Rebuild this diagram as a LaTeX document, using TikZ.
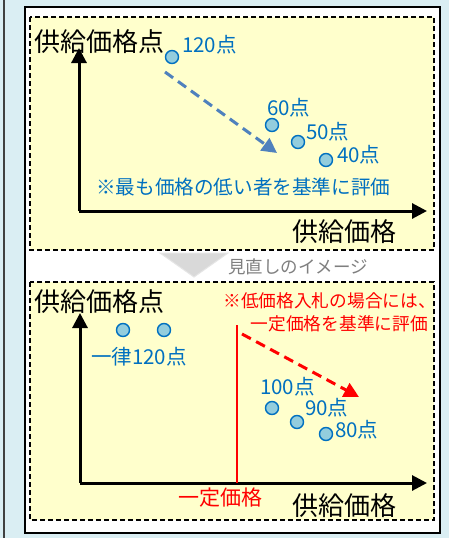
\documentclass[tikz,border=0pt]{standalone}
\usepackage{fontspec}
\setmainfont{Noto Sans CJK JP}
\usetikzlibrary{arrows.meta}
\definecolor{bgblue}{HTML}{DAEEF3}
\definecolor{boxyellow}{HTML}{FFFFCC}
\definecolor{txtblue}{HTML}{0070C0}
\definecolor{dotfill}{HTML}{93CDDD}
\definecolor{arrblue}{HTML}{4F81BD}
\definecolor{midgray}{HTML}{7F7F7F}
\tikzset{
  dashbox/.style={draw=black, line width=1.5pt, dash pattern=on 5pt off 3pt, fill=boxyellow},
  axis/.style={draw=black, line width=3pt, -{Triangle[length=15pt,width=15pt]}},
  dot/.style={circle, draw=txtblue, fill=dotfill, line width=1.4pt, minimum size=13pt, inner sep=0pt},
  lbl/.style={inner sep=0pt, anchor=west},
  big/.style={lbl, font=\fontsize{26}{30}\selectfont, text=black},
  bluelbl/.style={lbl, font=\fontsize{20.5}{24}\selectfont, text=txtblue},
  redlbl/.style={inner sep=0pt, font=\fontsize{17.7}{21}\selectfont, text=red},
}
\begin{document}
\begin{tikzpicture}[x=1pt,y=-1pt]
\useasboundingbox (0,0) rectangle (449,538);
\fill[bgblue] (0,0) rectangle (449,538);
\draw[black!75, line width=1.2pt] (4,0) -- (4,538);
\draw[fill=white, line width=1.5pt] (25,7) rectangle (440,533);
% top panel
\path[dashbox] (30,17) rectangle (434,250);
\node[big] (t1) at (34,42) {供給価格点};
\coordinate (o1) at (79,211);
\coordinate (y1) at (79,48);
\coordinate (x1) at (427,211);
\draw[axis] (o1) -- (y1);
\draw[axis] (o1) -- (x1);
\node[big] (xl1) at (292,232) {供給価格};
\node[dot] (p120) at (172,57) {};
\node[bluelbl] (l120) at (182,45) {120点};
\node[dot] (p60) at (272,125) {};
\node[bluelbl] (l60) at (267,108) {60点};
\node[dot] (p50) at (298,142) {};
\node[bluelbl] (l50) at (306,132) {50点};
\node[dot] (p40) at (326,160) {};
\node[bluelbl] (l40) at (337,155) {40点};
\coordinate (a1s) at (165,72);
\coordinate (a1e) at (277,153);
\draw[arrblue, line width=3pt, dash pattern=on 10pt off 6pt, -{Triangle[length=15pt,width=15pt]}] (a1s) -- (a1e);
\node[lbl, font=\fontsize{19.6}{23}\selectfont, text=txtblue] (note1) at (96,187) {※最も価格の低い者を基準に評価};
% middle
\coordinate (ta) at (160,253);
\coordinate (tb) at (228,253);
\coordinate (tc) at (194,277);
\draw[fill=black!15, draw=black!10, line width=1pt] (ta) -- (tb) -- (tc) -- cycle;
\node[lbl, font=\fontsize{17.5}{20}\selectfont, text=midgray] (mid) at (228,267) {見直しのイメージ};
% bottom panel
\path[dashbox] (30,282) rectangle (434,520);
\node[big] (t2) at (34,302) {供給価格点};
\coordinate (o2) at (80,483);
\coordinate (y2) at (80,313);
\coordinate (x2) at (427,483);
\draw[axis] (o2) -- (y2);
\draw[axis] (o2) -- (x2);
\node[big] (xl2) at (292,506) {供給価格};
\node[dot] (q1) at (123,330) {};
\node[dot] (q2) at (164,330) {};
\node[bluelbl] (l120b) at (91,357) {一律120点};
\coordinate (rtop) at (237,325);
\coordinate (rbot) at (237,483);
\draw[red, line width=1.5pt] (rtop) -- (rbot);
\node[redlbl, anchor=east] (r1) at (436,301) {※低価格入札の場合には、};
\node[redlbl, anchor=east] (r2) at (428,324) {一定価格を基準に評価};
\coordinate (a2s) at (242,334);
\coordinate (a2e) at (359,397);
\draw[red, line width=3pt, dash pattern=on 10pt off 6pt, -{Triangle[length=15pt,width=15pt]}] (a2s) -- (a2e);
\node[bluelbl] (l100) at (260,387) {100点};
\node[dot] (p100) at (272,408) {};
\node[bluelbl] (l90) at (305,408) {90点};
\node[dot] (p90) at (297,422) {};
\node[bluelbl] (l80) at (335,430) {80点};
\node[dot] (p80) at (326,434) {};
\node[lbl, font=\fontsize{21}{24}\selectfont, text=red] (fix) at (178,498) {一定価格};
\end{tikzpicture}
\end{document}
